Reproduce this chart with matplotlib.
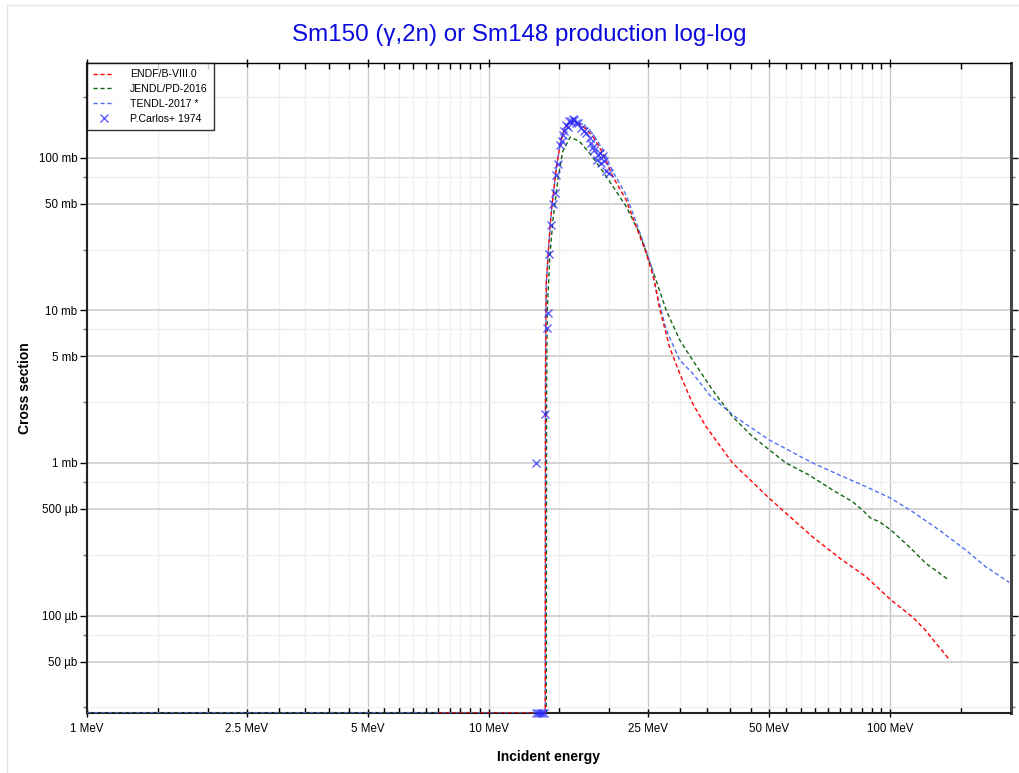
import numpy as np
import matplotlib.pyplot as plt
from matplotlib.ticker import FixedLocator, FuncFormatter, NullFormatter
from matplotlib.patches import Rectangle

plt.rcParams['font.family'] = ['Liberation Sans', 'DejaVu Sans']

# floor of the plot (values drawn at the bottom edge), in mb
floor = 0.023

# ENDF/B-VIII.0
endf_e = [7.5, 13.84, 13.86, 13.92, 14.1, 14.25, 14.4, 14.6, 14.8, 15.1, 15.4, 15.75, 16.35,
          17.2, 18.2, 19.25, 20.4, 22.0, 23.3, 24.7, 25.9, 26.6, 28.2, 29.9, 32.2, 34.8,
          40.5, 50.0, 64.0, 75.0, 87.0, 100.0, 113.6, 121.5, 140.0]
endf_xs = [floor, floor, 4.0, 15.0, 25.0, 37.0, 50.0, 68.0, 91.0, 125.0, 150.0, 165.0, 173.0,
           160.0, 138.0, 107.0, 75.0, 53.0, 35.4, 23.7, 15.5, 10.6, 5.79, 3.87, 2.46, 1.73,
           1.0, 0.587, 0.329, 0.237, 0.18, 0.128, 0.098, 0.082, 0.052]

# JENDL/PD-2016
jendl_e = [1.0, 13.92, 13.95, 14.0, 14.2, 14.45, 14.88, 15.3, 15.97, 16.84, 17.84, 18.88,
           20.39, 22.0, 23.75, 24.9, 26.1, 27.7, 29.9, 32.2, 36.1, 40.5, 45.4, 50.0, 55.0,
           62.8, 71.9, 80.6, 85.3, 89.5, 93.9, 100.4, 111.5, 122.7, 140.0]
jendl_xs = [floor, floor, 3.0, 10.0, 22.0, 38.0, 72.0, 110.0, 136.5, 128.0, 107.0, 87.7,
            64.9, 48.0, 32.1, 22.5, 15.9, 10.0, 6.41, 4.73, 3.01, 2.01, 1.49, 1.22, 1.0,
            0.834, 0.665, 0.557, 0.492, 0.434, 0.413, 0.364, 0.283, 0.22, 0.171]

# TENDL-2017
tendl_e = [1.0, 13.84, 13.86, 13.92, 14.1, 14.25, 14.4, 14.6, 14.8, 15.1, 15.4, 15.75, 16.35,
           17.2, 18.2, 19.25, 20.4, 22.0, 23.3, 24.7, 25.5, 26.1, 27.7, 29.9, 32.2, 35.5,
           38.3, 41.3, 50.0, 64.1, 74.7, 87.0, 100.4, 113.6, 132.4, 154.2, 172.9, 198.0]
tendl_xs = [floor, floor, 4.0, 15.0, 25.0, 37.0, 50.0, 68.0, 91.0, 125.0, 150.0, 166.0, 176.0,
            165.0, 143.0, 113.0, 81.0, 57.0, 38.0, 24.5, 19.0, 13.6, 7.45, 4.73, 3.87, 2.79,
            2.34, 1.99, 1.415, 1.0, 0.834, 0.70, 0.587, 0.48, 0.364, 0.269, 0.209, 0.165]

# P.Carlos+ 1974
exp_e = [13.15, 13.3, 13.45, 13.6, 13.75, 13.16, 13.8, 13.96, 14.1, 14.18, 14.31, 14.45,
         14.6, 14.74, 14.88, 15.08, 15.2, 15.3, 15.45, 15.6, 15.75, 15.9, 16.06, 16.2, 16.36,
         16.5, 16.67, 17.0, 17.25, 17.5, 17.84, 18.0, 18.2, 18.35, 18.6, 18.7, 18.9, 19.1,
         19.25, 19.44, 19.63, 20.0]
exp_xs = [floor, floor, floor, floor, floor, 1.0, 2.09, 7.64, 9.58, 23.4, 36.4, 49.7,
          58.6, 77.4, 90.9, 121.7, 128.0, 141.5, 149.0, 164.0, 160.0, 173.0, 173.0, 179.5, 177.5,
          169.0, 169.0, 156.6, 150.0, 145.0, 134.6, 125.0, 118.0, 112.9, 97.0, 104.6, 108.0, 92.0,
          102.0, 94.6, 81.3, 79.4]

x_major = [1, 2.5, 5, 10, 25, 50, 100]
x_minor = [1.5, 2, 3, 3.5, 4, 4.5, 5.5, 6, 6.5, 7, 7.5, 8, 8.5, 9, 9.5,
           15, 20, 30, 35, 40, 45, 55, 60, 65, 70, 75, 80, 85, 90, 95, 150]
y_major = [0.05, 0.1, 0.5, 1, 5, 10, 50, 100]
y_minor = [0.025, 0.075, 0.25, 0.75, 2.5, 7.5, 25, 75, 250]


def fmt_x(v, pos):
    return f"{v:g} MeV"


def fmt_y(v, pos):
    if v >= 1:
        return f"{v:g} mb"
    return f"{v * 1000:g} µb"


fig = plt.figure(figsize=(10.2, 7.73), dpi=100)
ax = fig.add_axes([87 / 1020, 1 - 713 / 773, (1011 - 87) / 1020, (713 - 63) / 773])

fig.patches.append(Rectangle((7 / 1020, -0.1), 1.2, 1 - 4.5 / 773 + 0.1, transform=fig.transFigure,
                             fill=False, edgecolor='#e4e4e4', linewidth=1))

dash = (0, (3, 2))
ax.plot(endf_e, endf_xs, color='#ff0000', linestyle=dash, linewidth=1, label='ENDF/B-VIII.0', zorder=4)
ax.plot(jendl_e, jendl_xs, color='#116611', linestyle=dash, linewidth=1, label='JENDL/PD-2016', zorder=3)
ax.plot(tendl_e, tendl_xs, color='#4d70f0', linestyle=dash, linewidth=1, label='TENDL-2017 *', zorder=3)
ax.plot(exp_e, exp_xs, linestyle='none', marker='x', markersize=6, markeredgewidth=1,
        color='#2a2aff', alpha=0.75, label='P.Carlos+ 1974', clip_on=False, zorder=5)

ax.set_xscale('log')
ax.set_yscale('log')
ax.set_xlim(1, 200)
ax.set_ylim(floor, 417)

ax.xaxis.set_major_locator(FixedLocator(x_major))
ax.xaxis.set_minor_locator(FixedLocator(x_minor))
ax.xaxis.set_major_formatter(FuncFormatter(fmt_x))
ax.xaxis.set_minor_formatter(NullFormatter())
ax.yaxis.set_major_locator(FixedLocator(y_major))
ax.yaxis.set_minor_locator(FixedLocator(y_minor))
ax.yaxis.set_major_formatter(FuncFormatter(fmt_y))
ax.yaxis.set_minor_formatter(NullFormatter())

ax.grid(True, which='major', axis='x', color='#c8c8c8', linewidth=1)
ax.grid(True, which='major', axis='y', color='#d4d4d4', linewidth=1.4)
ax.grid(True, which='minor', color='#efefef', linewidth=1)
ax.set_axisbelow(True)

ax.tick_params(axis='x', which='major', direction='inout', length=6, width=1, labelsize=8.3,
               top=True, pad=4)
ax.tick_params(axis='x', which='minor', direction='in', length=4, width=1, top=True)
ax.tick_params(axis='y', which='major', direction='out', length=5, width=1, labelsize=8.3,
               right=True, pad=2)
ax.tick_params(axis='y', which='minor', direction='out', length=3, width=1, color='#777777',
               right=True)

for side in ['left', 'bottom']:
    ax.spines[side].set_linewidth(1.5)
    ax.spines[side].set_color('#222222')
ax.spines['right'].set_linewidth(2.2)
ax.spines['right'].set_color('#444444')
ax.spines['top'].set_linewidth(1)
ax.spines['top'].set_color('#000000')

ax.set_xlabel('Incident energy', fontsize=10, fontweight='bold')
ax.xaxis.set_label_coords(0.5, -(757 - 713) / 650, transform=ax.transAxes)
ax.set_ylabel('Cross section', fontsize=10, fontweight='bold')
ax.yaxis.set_label_coords(-(87 - 25) / 924, 0.5, transform=ax.transAxes)
ax.xaxis.label.set_va('center')
ax.yaxis.label.set_va('center')
fig.suptitle('Sm150 (γ,2n) or Sm148 production log-log', color='#0a0adc', fontsize=17.4,
             x=519 / 1020, y=1 - 35 / 773, va='center')

leg = ax.legend(loc='upper left', fontsize=7.6, frameon=True, fancybox=False,
                edgecolor='#000000', borderaxespad=0, handlelength=2.0, handletextpad=1.5,
                labelspacing=0.45, borderpad=0.6)
leg.get_frame().set_linewidth(1)

fig.savefig('out.png', dpi=100)
